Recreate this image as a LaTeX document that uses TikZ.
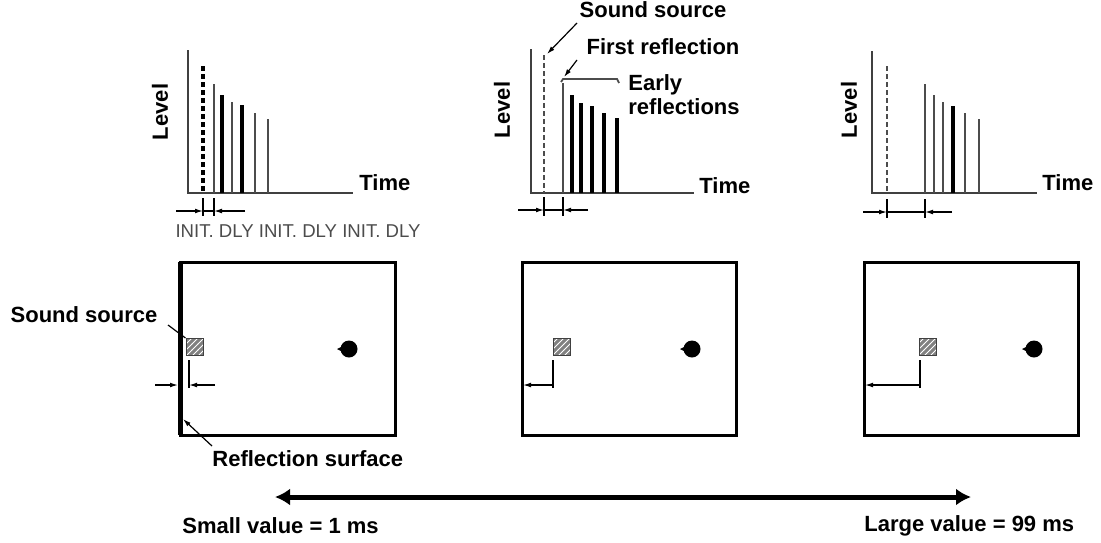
\documentclass[tikz,border=0pt]{standalone}
\usepackage{fontspec}
\setmainfont{Liberation Sans}
\usetikzlibrary{arrows.meta,patterns}

\begin{document}
\begin{tikzpicture}[x=0.5pt, y=-0.5pt,
  lbl/.style={font=\fontsize{11}{12}\selectfont\bfseries, inner sep=0pt},
  axis/.style={line width=1pt, black!75},
  imp/.style={line width=0.9pt, black!70},
  impb/.style={line width=1.6pt, black},
  dim/.style={line width=0.6pt, -{Latex[length=4pt,width=2.4pt]}},
  tick/.style={line width=0.6pt},
  wall/.style={line width=1.5pt},
  src/.style={draw=black!75, line width=0.5pt, preaction={fill=black!50}, pattern=north east lines, pattern color=white, minimum size=8.5pt, inner sep=0pt},
  ear/.style={circle, fill=black, minimum size=8.5pt, inner sep=0pt}]
\useasboundingbox (0,0) rectangle (1101,542);

% level / time graphs
\draw[axis] (188,50) -- (188,193) -- (353,193);
\node[lbl, anchor=west](TimeA) at (359,183){Time};
\node[lbl, rotate=90](LevelA) at (160,112){Level};
\draw[impb, dash pattern=on 2.5pt off 1.5pt] (203,66) -- (203,193);
\draw[imp] (214,84) -- (214,193);
\draw[impb] (222,95) -- (222,193);
\draw[imp] (232,102) -- (232,193);
\draw[impb] (242,105) -- (242,193);
\draw[imp] (255,113) -- (255,193);
\draw[imp] (268,119) -- (268,193);
\coordinate (dA1) at (203,211);
\coordinate (dA2) at (214,211);
\draw[tick] (203,198) -- (203,216);
\draw[tick] (214,198) -- (214,216);
\draw[dim] (176,211) -- (dA1);
\draw[dim] (245,211) -- (dA2);
\draw[tick] (dA1) -- (dA2);
\node[font=\fontsize{9.3}{10}\selectfont, text=black!70, inner sep=0pt](DlyA) at (298,231){INIT. DLY INIT. DLY INIT. DLY};

\draw[axis] (531,49) -- (531,193) -- (694,193);
\node[lbl, anchor=west](TimeB) at (699,186){Time};
\node[lbl, rotate=90](LevelB) at (502,110){Level};
\draw[imp, dash pattern=on 2.5pt off 1.5pt] (544,55) -- (544,193);
\draw[imp] (563,83) -- (563,193);
\draw[impb] (572,95) -- (572,193);
\draw[impb] (581,103) -- (581,193);
\draw[impb] (592,106) -- (592,193);
\draw[impb] (604,113) -- (604,193);
\draw[impb] (617,118) -- (617,193);
\draw[imp] (561,82) -- (563,79) -- (617,79) -- (619,83);
\node[lbl](SrcLbl) at (653,10){Sound source};
\node[lbl](FirstLbl) at (663,47){First reflection};
\node[lbl, anchor=west, align=left](EarlyLbl) at (628,95){Early\\reflections};
\coordinate (SrcFrom) at (577,23);
\coordinate (SrcTo) at (547,54);
\coordinate (FirstFrom) at (577,60);
\coordinate (FirstTo) at (564,77);
\draw[dim] (SrcFrom) -- (SrcTo);
\draw[dim] (FirstFrom) -- (FirstTo);
\coordinate (dB1) at (544,210);
\coordinate (dB2) at (563,210);
\draw[tick] (544,197) -- (544,216);
\draw[tick] (563,197) -- (563,216);
\draw[dim] (518,210) -- (dB1);
\draw[dim] (588,210) -- (dB2);
\draw[tick] (dB1) -- (dB2);

\draw[axis] (872,51) -- (872,193) -- (1037,193);
\node[lbl, anchor=west](TimeC) at (1042,183){Time};
\node[lbl, rotate=90](LevelC) at (849,110){Level};
\draw[imp, dash pattern=on 2.5pt off 1.5pt] (887,66) -- (887,193);
\draw[imp] (925,84) -- (925,193);
\draw[imp] (934,95) -- (934,193);
\draw[imp] (943,102) -- (943,193);
\draw[impb] (953,106) -- (953,193);
\draw[imp] (965,113) -- (965,193);
\draw[imp] (979,119) -- (979,193);
\coordinate (dC1) at (887,212);
\coordinate (dC2) at (925,212);
\draw[tick] (887,199) -- (887,218);
\draw[tick] (925,199) -- (925,218);
\draw[dim] (863,212) -- (dC1);
\draw[dim] (952,212) -- (dC2);
\draw[tick] (dC1) -- (dC2);

% rooms
\draw[wall] (180,262) rectangle (395,435);
\draw[line width=2.5pt] (180.5,262) -- (180.5,435);
\node[src](SqA) at (194.5,347){};
\node[ear](EarA) at (349,349){};
\fill (337,349) -- (345,345) -- (345,353) -- cycle;
\draw[tick] (189,360) -- (189,388);
\coordinate (WallA) at (178,385);
\coordinate (SrcA) at (189,385);
\draw[dim] (155,385) -- (WallA);
\draw[dim] (215,385) -- (SrcA);
\node[lbl](SoundLbl) at (84,315){Sound source};
\coordinate (SoundFrom) at (168,325);
\draw[tick] (SoundFrom) -- (SqA.north west);
\node[lbl, anchor=west](ReflLbl) at (212,459){Reflection surface};
\coordinate (ReflFrom) at (212,446);
\coordinate (ReflTo) at (183,419);
\draw[dim] (ReflFrom) -- (ReflTo);

\draw[wall] (522,262) rectangle (736,435);
\node[src](SqB) at (562,347){};
\node[ear](EarB) at (692,349){};
\fill (680,349) -- (688,345) -- (688,353) -- cycle;
\draw[tick] (553,360) -- (553,388);
\coordinate (WallB) at (523,385);
\coordinate (SrcB) at (553,385);
\draw[dim, {Latex[length=4pt,width=2.4pt]}-] (WallB) -- (SrcB);

\draw[wall] (864,262) rectangle (1078,435);
\node[src](SqC) at (928,347){};
\node[ear](EarC) at (1034,349){};
\fill (1022,349) -- (1030,345) -- (1030,353) -- cycle;
\draw[tick] (920,360) -- (920,388);
\coordinate (WallC) at (865,385);
\coordinate (SrcC) at (920,385);
\draw[dim, {Latex[length=4pt,width=2.4pt]}-] (WallC) -- (SrcC);

% value range
\coordinate (Lo) at (275,497);
\coordinate (Hi) at (971,497);
\draw[line width=2.5pt, {Latex[length=7.5pt,width=8.5pt]}-{Latex[length=7.5pt,width=8.5pt]}] (Lo) -- (Hi);
\node[lbl, anchor=west](SmallLbl) at (182,526){Small value = 1 ms};
\node[lbl, anchor=west](LargeLbl) at (864,526){Large value = 99 ms};
\end{tikzpicture}
\end{document}
